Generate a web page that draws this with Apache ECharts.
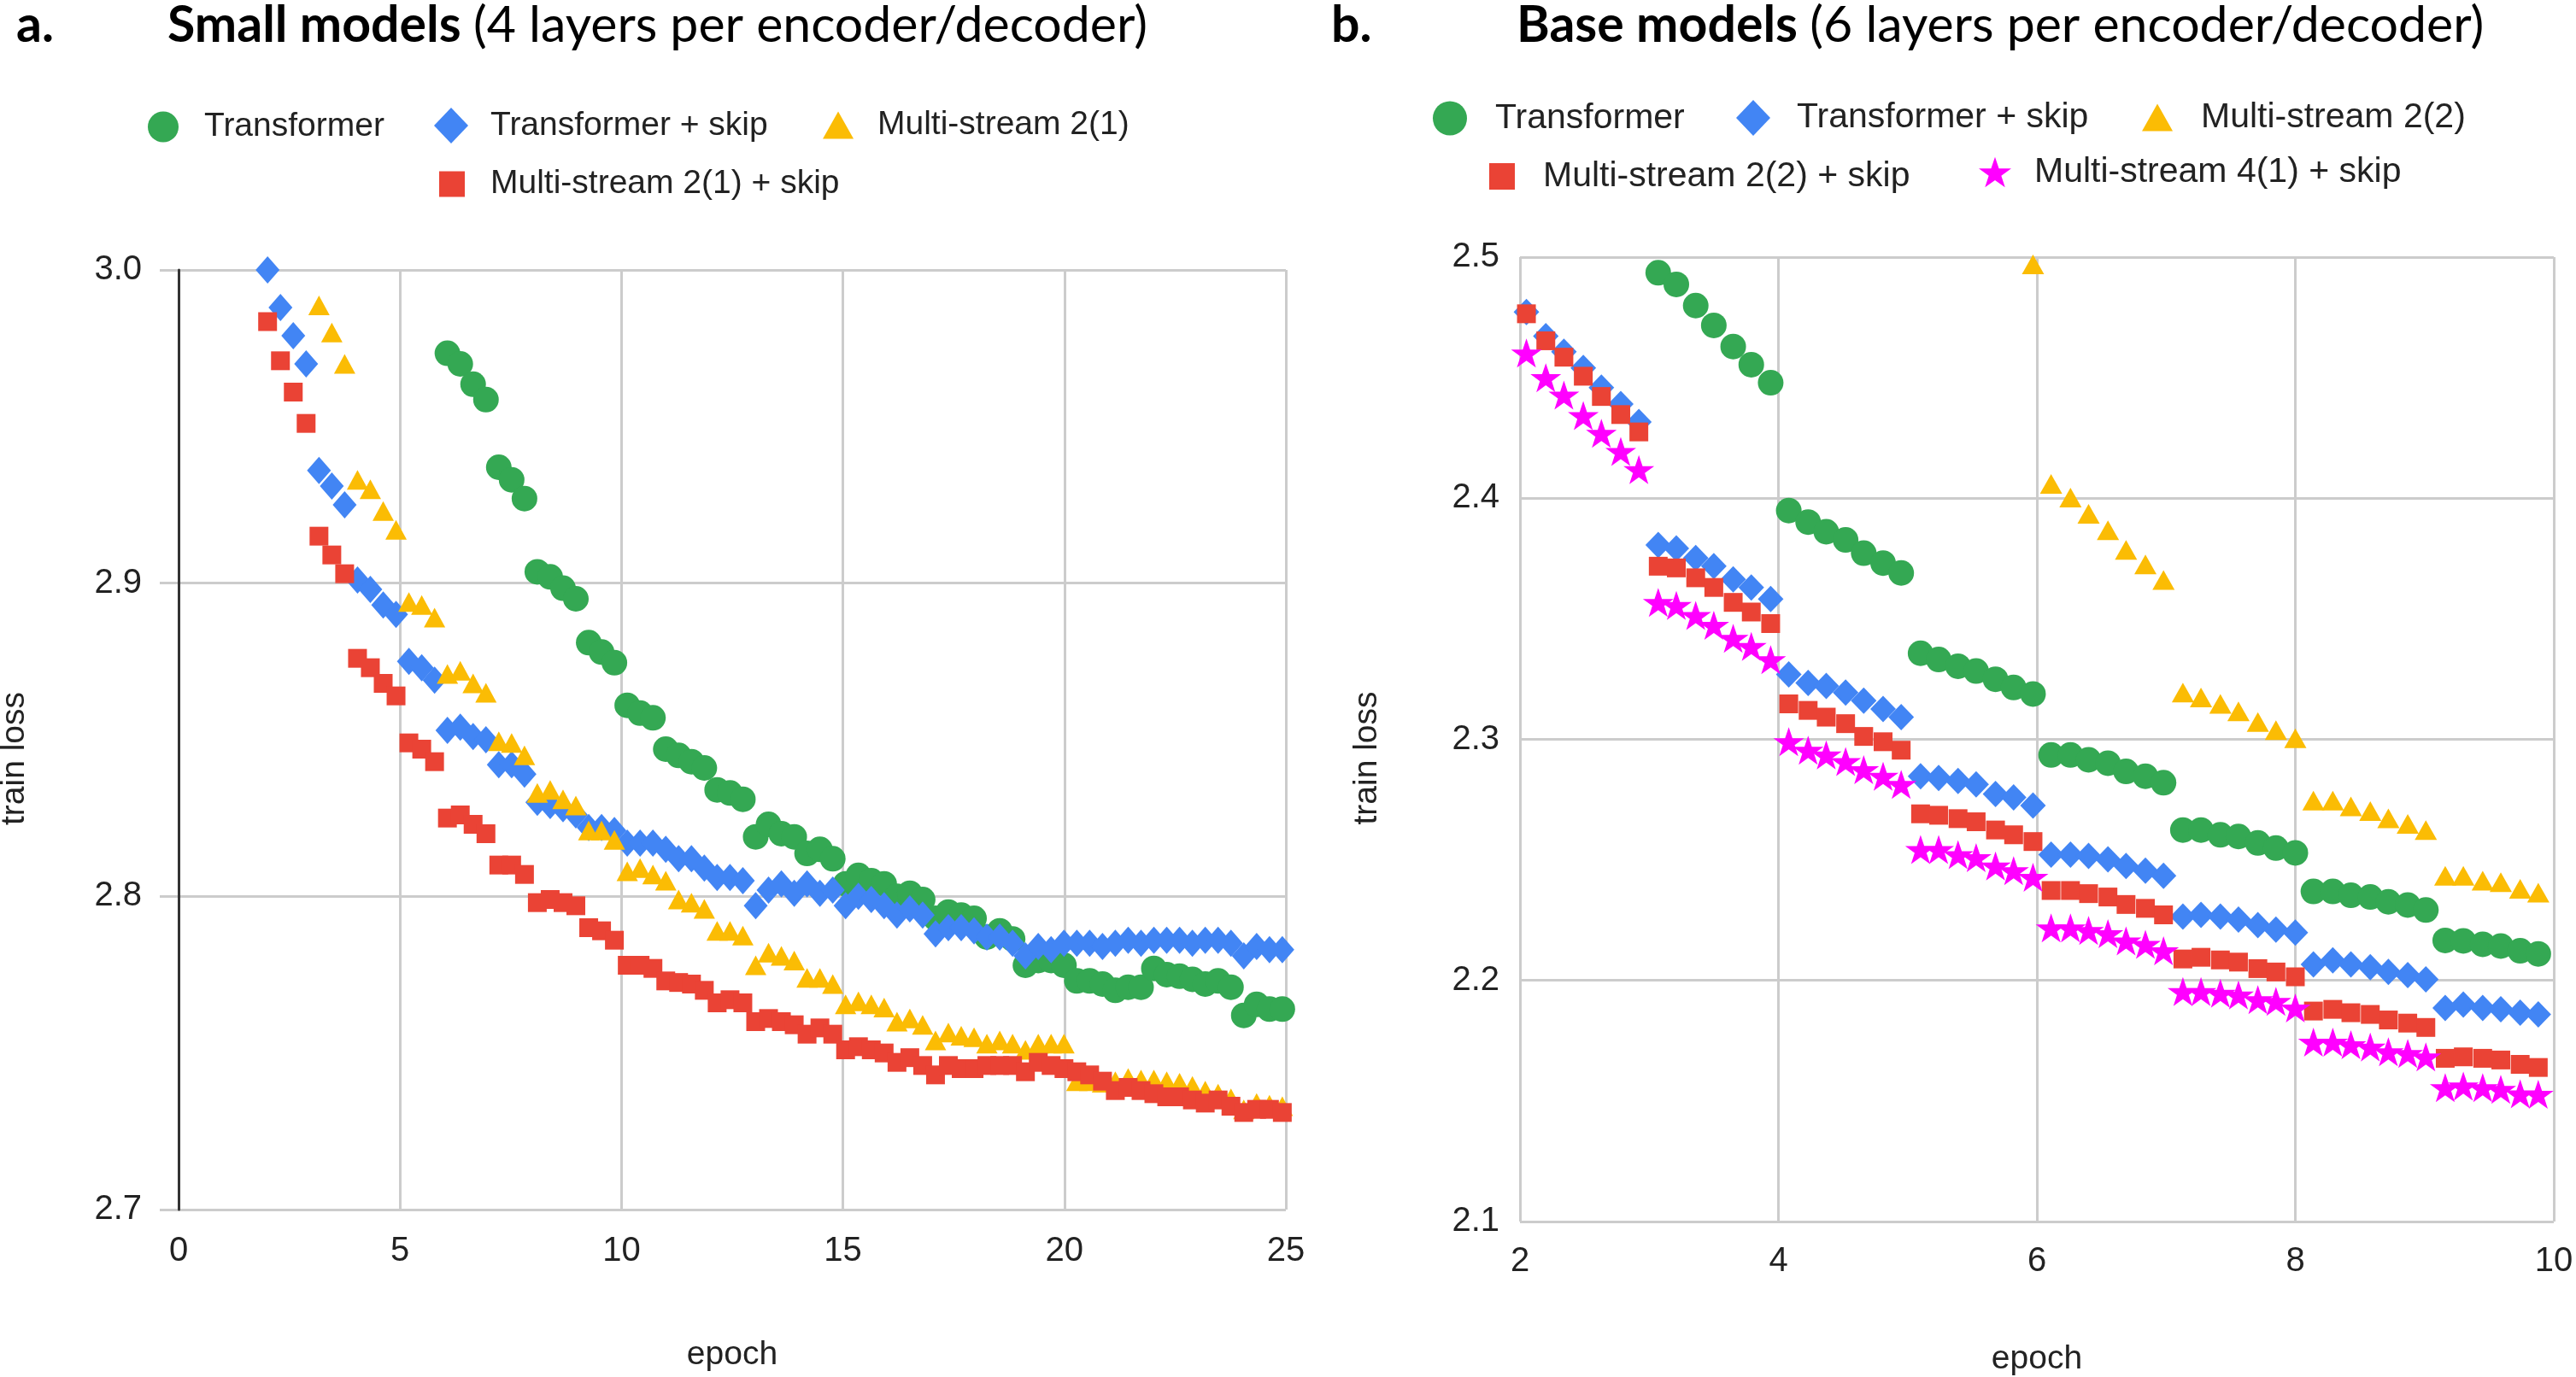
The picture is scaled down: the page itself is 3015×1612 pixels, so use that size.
<!DOCTYPE html>
<html><head><meta charset="utf-8">
<script src="https://cdn.jsdelivr.net/npm/echarts@6/dist/echarts.min.js"></script>
<style>html,body{margin:0;padding:0;background:#fff}#c{width:3015px;height:1612px}</style>
</head><body><div id="c"></div>
<script>
// ---------- (a) Small models ----------
const smallEpochs = [2.01,2.30,2.59,2.88,3.17,3.46,3.75,4.04,4.33,4.62,4.91,5.20,5.49,5.78,6.07,6.36,6.65,6.94,7.23,7.52,7.81,8.10,8.39,8.68,8.97,9.26,9.55,9.84,10.13,10.42,10.71,11.00,11.29,11.58,11.87,12.16,12.45,12.74,13.03,13.32,13.61,13.90,14.19,14.48,14.77,15.06,15.35,15.64,15.93,16.22,16.51,16.80,17.09,17.38,17.67,17.96,18.25,18.54,18.83,19.12,19.41,19.70,19.99,20.28,20.57,20.86,21.15,21.44,21.73,22.02,22.31,22.60,22.89,23.18,23.47,23.76,24.05,24.34,24.63,24.92];
const smallTransformer = [null,null,null,null,null,null,null,null,null,null,null,null,null,null,
  2.9734,2.970,2.9635,2.9586, 2.937,2.933,2.927, 2.9036,2.902,2.8984,2.895, 2.881,2.878,2.8746, 2.861,2.8585,2.857,
  2.847,2.845,2.843,2.841, 2.834,2.833,2.831, 2.819,2.823,2.820,2.819, 2.8137,2.815,2.812, 2.804,2.8067,2.805,2.804,
  2.800,2.801,2.799, 2.793,2.795,2.794,2.793, 2.787,2.789,2.7864, 2.778,2.7795,2.7795,2.778,
  2.773,2.773,2.772,2.770,2.771,2.771, 2.777,2.775,2.7745,2.7735,2.772,2.773,2.771, 2.762,2.7655,2.764,2.764];
const smallTransformerSkip = [3.000,2.988,2.979,2.970, 2.936,2.931,2.925, 2.901,2.898,2.893,2.890, 2.875,2.873,2.869,
  2.853,2.854,2.851,2.850, 2.842,2.842,2.839, 2.830,2.829,2.828,2.826, 2.822,2.822,2.821, 2.817,2.817,2.817,
  2.815,2.812,2.812,2.809, 2.806,2.806,2.805, 2.797,2.802,2.804,2.801, 2.804,2.801,2.802, 2.797,2.800,2.799,2.797,
  2.794,2.796,2.794, 2.788,2.790,2.790,2.789, 2.787,2.787,2.785, 2.781,2.784,2.783,2.785,
  2.785,2.785,2.784,2.785,2.786,2.785, 2.786,2.786,2.786,2.785,2.786,2.786,2.785, 2.781,2.784,2.783,2.783];
const smallMultiStream = [null,null,null,null,
  2.9887,2.980,2.970, 2.933,2.930,2.923,2.917, 2.894,2.893,2.889, 2.871,2.872,2.868,2.865, 2.8495,2.849,2.845,
  2.833,2.834,2.831,2.829, 2.821,2.821,2.818, 2.808,2.809,2.807,2.805, 2.799,2.798,2.796, 2.789,2.789,2.7875,
  2.778,2.782,2.781,2.7795, 2.774,2.774,2.772, 2.7655,2.7665,2.7655,2.7645, 2.760,2.761,2.759,
  2.754,2.7565,2.7555,2.755, 2.753,2.754,2.753, 2.751,2.753,2.753,2.753,
  2.741,2.741,2.7405,2.741,2.742,2.7415,2.7415, 2.741,2.7405,2.7395,2.738,2.737,2.7355, 2.732,2.734,2.7335,2.733];
const smallMultiStreamSkip = [2.9835,2.971,2.961,2.951, 2.915,2.909,2.903, 2.876,2.873,2.868,2.864, 2.849,2.847,2.843,
  2.825,2.826,2.823,2.820, 2.810,2.810,2.807, 2.798,2.799,2.798,2.797, 2.790,2.789,2.786, 2.778,2.778,2.777,
  2.773,2.7725,2.772,2.770, 2.766,2.767,2.766, 2.760,2.761,2.760,2.759, 2.756,2.758,2.756, 2.751,2.752,2.751,2.750,
  2.747,2.7485,2.746, 2.743,2.746,2.745,2.745, 2.746,2.746,2.746, 2.744,2.747,2.746,2.745,
  2.744,2.743,2.741,2.738,2.739,2.738, 2.737,2.736,2.736,2.735,2.734,2.735,2.733, 2.731,2.732,2.732,2.731];
const smallXTicks = [0, 5, 10, 15, 20, 25];
const smallYTicks = [2.7, 2.8, 2.9, 3.0];

// ---------- (b) Base models ----------
const baseEpochs = [2.05,2.20,2.34,2.49,2.63,2.78,2.92, 3.07,3.21,3.36,3.50,3.65,3.79,3.94, 4.08,4.23,4.37,4.52,4.66,4.81,4.95,
  5.10,5.24,5.39,5.53,5.68,5.82,5.97, 6.11,6.26,6.40,6.55,6.69,6.84,6.98, 7.13,7.27,7.42,7.56,7.71,7.85,8.00,
  8.14,8.29,8.43,8.58,8.72,8.87,9.01, 9.16,9.30,9.45,9.59,9.74,9.88];
const baseTransformer = [null,null,null,null,null,null,null,
  2.4935,2.4887,2.4799,2.4717,2.4629,2.4554,2.4479,
  2.3949,2.3901,2.3861,2.3827,2.3772,2.3731,2.3690,
  2.3357,2.3331,2.3303,2.3283,2.3249,2.3215,2.3188,
  2.2935,2.2935,2.2915,2.2901,2.2867,2.2847,2.2820,
  2.2624,2.2624,2.2604,2.2597,2.2570,2.2549,2.2529,
  2.2369,2.2369,2.2353,2.2346,2.2326,2.2313,2.2292,
  2.2166,2.2164,2.2150,2.2143,2.2123,2.2110];
const baseTransformerSkip = [2.4772,2.4672,2.4608,2.4540,2.4459,2.4391,2.4316,
  2.3806,2.3792,2.3752,2.3718,2.3663,2.3630,2.3582,
  2.3269,2.3234,2.3221,2.3194,2.3160,2.3126,2.3092,
  2.2847,2.2840,2.2827,2.2813,2.2773,2.2759,2.2725,
  2.2522,2.2522,2.2516,2.2502,2.2475,2.2455,2.2434,
  2.2265,2.2272,2.2265,2.2252,2.2229,2.2211,2.2198,
  2.2066,2.2083,2.2066,2.2055,2.2035,2.2022,2.2004,
  2.1886,2.1900,2.1886,2.1880,2.1866,2.1859];
const baseMultiStream22 = [null,null,null,null,null,null,null,null,null,null,null,null,null,null,
  null,null,null,null,null,null,null,null,null,null,null,null,null,
  2.497,
  2.4059,2.4003,2.3935,2.3867,2.3786,2.3725,2.3661,
  2.3194,2.3174,2.3147,2.3116,2.3072,2.3038,2.3004,
  2.2746,2.2746,2.2722,2.2702,2.2672,2.2649,2.2624,
  2.2434,2.2434,2.2414,2.2407,2.2380,2.2364];
const baseMultiStream22Skip = [2.4765,2.4653,2.4585,2.4506,2.4422,2.4347,2.4275,
  2.3718,2.3711,2.3670,2.3630,2.3568,2.3528,2.3480,
  2.3147,2.3120,2.3092,2.3065,2.3012,2.2990,2.2955,
  2.2691,2.2685,2.2671,2.2658,2.2624,2.2604,2.2576,
  2.2373,2.2373,2.2360,2.2346,2.2315,2.2299,2.2272,
  2.2089,2.2096,2.2085,2.2076,2.2049,2.2035,2.2015,
  2.1873,2.1880,2.1866,2.1859,2.1836,2.1823,2.1805,
  2.1677,2.1683,2.1677,2.1670,2.1652,2.1639];
const baseMultiStream41Skip = [2.4602,2.4500,2.4428,2.4343,2.4269,2.4194,2.4119,
  2.3568,2.3555,2.3514,2.3473,2.3419,2.3385,2.3330,
  2.2990,2.2955,2.2935,2.2908,2.2874,2.2847,2.2813,
  2.2543,2.2543,2.2522,2.2509,2.2475,2.2455,2.2428,
  2.2218,2.2218,2.2207,2.2194,2.2164,2.2150,2.2123,
  2.1954,2.1954,2.1947,2.1940,2.1920,2.1913,2.1886,
  2.1744,2.1744,2.1733,2.1724,2.1704,2.1697,2.1683,
  2.1555,2.1562,2.1555,2.1548,2.1530,2.1528];
const baseXTicks = [2, 4, 6, 8, 10];
const baseYTicks = [2.1, 2.2, 2.3, 2.4, 2.5];

// ---------- styling ----------
const COL = {green:'#34A853', blue:'#4285F4', yellow:'#FBBC04', red:'#EA4335', magenta:'#FF00FF'};
const STAR = 'path://M50,0 L61.8,35.1 L98.9,35.1 L68.9,56.8 L80.2,91.9 L50,70.2 L19.8,91.9 L31.1,56.8 L1.1,35.1 L38.2,35.1 Z';
const SANS = "'Liberation Sans', Arial, sans-serif";
const TITLE_FONT = "Lato, 'Noto Sans', sans-serif";
const TITLE_SIZE = 59;

function pts(xs, ys) {
  const out = [];
  for (let i = 0; i < xs.length; i++) if (ys[i] != null) out.push([xs[i], ys[i]]);
  return out;
}
const gridLine = {show: true, lineStyle: {color: '#cccccc', width: 3}};
const tickLabel = {color: '#222', fontSize: 40, fontFamily: SANS};
const nameStyle = {color: '#222', fontSize: 39, fontFamily: SANS};

function scatter(name, xs, ys, symbol, size, color, axis) {
  return {type: 'scatter', name, data: pts(xs, ys), symbol, symbolSize: size,
    xAxisIndex: axis, yAxisIndex: axis, itemStyle: {color, opacity: 1},
    emphasis: {disabled: true}, animation: false, z: 3};
}
function legendItem(name, left, top, w, h, pad, fs) {
  return {data: [name], left, top, itemWidth: w, itemHeight: h, padding: 0, itemGap: 0,
    selectedMode: false, orient: 'horizontal',
    textStyle: {color: '#222', fontSize: fs, fontFamily: SANS, padding: [0, 0, 0, pad]}};
}
function titleRich(bold, rest, left) {
  return {text: '{b|' + bold + ' }{n|' + rest + '}', left, top: 0, padding: 0,
    textStyle: {fontFamily: TITLE_FONT, fontSize: TITLE_SIZE, color: '#000',
      rich: {b: {fontFamily: TITLE_FONT, fontWeight: 'bold', fontSize: TITLE_SIZE, color: '#000'},
             n: {fontFamily: TITLE_FONT, fontWeight: 'normal', fontSize: TITLE_SIZE, color: '#000'}}}};
}

const option = {
  backgroundColor: '#ffffff',
  animation: false,
  title: [
    {text: 'a.', left: 19, top: 0, padding: 0,
      textStyle: {fontFamily: TITLE_FONT, fontWeight: 'bold', fontSize: TITLE_SIZE, color: '#000'}},
    titleRich('Small models', '(4 layers per encoder/decoder)', 196),
    {text: 'b.', left: 1558, top: 0, padding: 0,
      textStyle: {fontFamily: TITLE_FONT, fontWeight: 'bold', fontSize: TITLE_SIZE, color: '#000'}},
    titleRich('Base models', '(6 layers per encoder/decoder)', 1775)
  ],
  legend: [
    legendItem('Transformer', 173, 129, 36, 36, 25, 39),
    legendItem('Transformer + skip', 508, 126, 40, 42, 21, 39),
    legendItem('Multi-stream 2(1)', 963, 127, 36, 32, 23, 39),
    legendItem('Multi-stream 2(1) + skip', 514, 196, 30, 30, 25, 39),
    legendItem('Transformer', 1677, 118, 40, 40, 28, 41),
    legendItem('Transformer + skip', 2032, 117, 40, 42, 26, 41),
    legendItem('Multi-stream 2(2)', 2507, 117, 36, 32, 28, 41),
    legendItem('Multi-stream 2(2) + skip', 1743, 186, 30, 31, 28, 41),
    legendItem('Multi-stream 4(1) + skip', 2316, 181, 38, 36, 22, 41)
  ],
  grid: [
    {left: 187, top: 316, width: 1318, height: 1100, outerBoundsMode: 'none'},
    {left: 209, top: 316, width: 1296, height: 1100, outerBoundsMode: 'none'},
    {left: 1779, top: 301, width: 1210, height: 1129, outerBoundsMode: 'none'}
  ],
  xAxis: [
    {gridIndex: 0, type: 'value', show: false, min: 0, max: 1},
    {gridIndex: 1, type: 'value', min: smallXTicks[0], max: smallXTicks[smallXTicks.length - 1],
      interval: smallXTicks[1] - smallXTicks[0],
      axisLine: {show: false}, axisTick: {show: false}, splitLine: gridLine,
      axisLabel: Object.assign({margin: 29}, tickLabel),
      name: 'epoch', nameLocation: 'middle', nameGap: 151, nameTextStyle: nameStyle},
    {gridIndex: 2, type: 'value', min: baseXTicks[0], max: baseXTicks[baseXTicks.length - 1],
      interval: baseXTicks[1] - baseXTicks[0],
      axisLine: {show: false}, axisTick: {show: false}, splitLine: gridLine,
      axisLabel: Object.assign({margin: 27}, tickLabel),
      name: 'epoch', nameLocation: 'middle', nameGap: 142, nameTextStyle: nameStyle}
  ],
  yAxis: [
    {gridIndex: 0, type: 'value', min: smallYTicks[0], max: smallYTicks[smallYTicks.length - 1], interval: 0.1,
      axisLine: {show: false}, axisTick: {show: false}, splitLine: gridLine,
      axisLabel: Object.assign({margin: 21, formatter: v => v.toFixed(1)}, tickLabel),
      name: 'train loss', nameLocation: 'middle', nameGap: 150,
      nameTextStyle: Object.assign({padding: [0, 44, 0, 0]}, nameStyle)},
    {gridIndex: 1, type: 'value', min: smallYTicks[0], max: smallYTicks[smallYTicks.length - 1], interval: 0.1,
      axisLine: {show: true, lineStyle: {color: '#333333', width: 3}}, axisTick: {show: false},
      axisLabel: {show: false}, splitLine: {show: false}},
    {gridIndex: 2, type: 'value', min: baseYTicks[0], max: baseYTicks[baseYTicks.length - 1], interval: 0.1,
      axisLine: {show: false}, axisTick: {show: false}, splitLine: gridLine,
      axisLabel: Object.assign({margin: 24, formatter: v => v.toFixed(1)}, tickLabel),
      name: 'train loss', nameLocation: 'middle', nameGap: 159,
      nameTextStyle: Object.assign({padding: [0, 44, 0, 0]}, nameStyle)}
  ],
  series: [
    scatter('Transformer', smallEpochs, smallTransformer, 'circle', 30, COL.green, 1),
    scatter('Transformer + skip', smallEpochs, smallTransformerSkip, 'diamond', [28, 32], COL.blue, 1),
    scatter('Multi-stream 2(1)', smallEpochs, smallMultiStream, 'triangle', [25, 23], COL.yellow, 1),
    scatter('Multi-stream 2(1) + skip', smallEpochs, smallMultiStreamSkip, 'rect', [22, 22], COL.red, 1),
    scatter('Transformer', baseEpochs, baseTransformer, 'circle', 30, COL.green, 2),
    scatter('Transformer + skip', baseEpochs, baseTransformerSkip, 'diamond', [30, 31], COL.blue, 2),
    scatter('Multi-stream 2(2)', baseEpochs, baseMultiStream22, 'triangle', [26, 23], COL.yellow, 2),
    scatter('Multi-stream 2(2) + skip', baseEpochs, baseMultiStream22Skip, 'rect', [22, 22], COL.red, 2),
    scatter('Multi-stream 4(1) + skip', baseEpochs, baseMultiStream41Skip, STAR, [36, 34], COL.magenta, 2)
  ]
};
const chart = echarts.init(document.getElementById('c'), null, {renderer: 'canvas'});
chart.setOption(option);
</script></body></html>
